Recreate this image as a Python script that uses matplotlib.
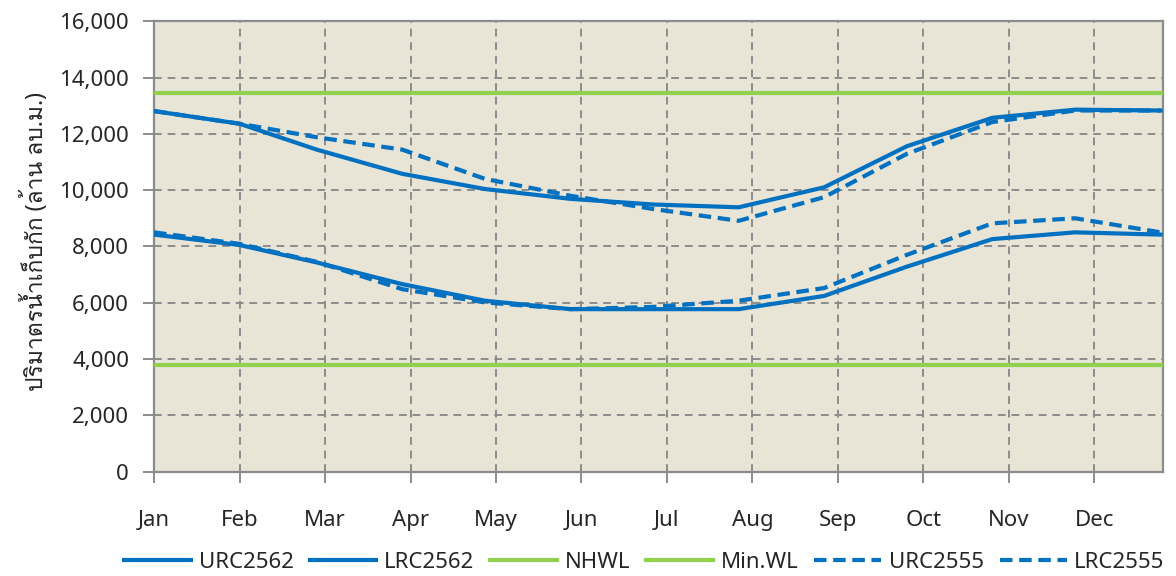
#!/usr/bin/env python3

import numpy as np
import matplotlib

matplotlib.use("Agg")
import matplotlib.pyplot as plt
from matplotlib import ticker, font_manager

# day-of-year of the 1st of each month (plus next Jan 1)
days = [0, 31, 59, 90, 120, 151, 181, 212, 243, 273, 304, 334, 365]
months = ["Jan", "Feb", "Mar", "Apr", "May", "Jun",
          "Jul", "Aug", "Sep", "Oct", "Nov", "Dec"]

urc2562 = [12810, 12360, 11440, 10580, 10040, 9690, 9490, 9390, 10100, 11560, 12570, 12860, 12830]
lrc2562 = [8420, 8050, 7430, 6660, 6070, 5770, 5770, 5770, 6240, 7280, 8260, 8500, 8420]
urc2555 = [12810, 12360, 11880, 11440, 10400, 9800, 9330, 8910, 9750, 11290, 12420, 12830, 12830]
lrc2555 = [8500, 8090, 7450, 6480, 6010, 5770, 5850, 6070, 6520, 7700, 8820, 9000, 8500]
nhwl = 13462
min_wl = 3800

ylabel = "ปริมาตรน้ำเก็บกัก (ล้าน ลบ.ม.)"


def thai_font():
    # pick any installed font that has Thai glyphs
    from matplotlib.ft2font import FT2Font
    for f in font_manager.fontManager.ttflist:
        try:
            ft = FT2Font(f.fname)
            if 0x0E1B in ft.get_charmap():
                return f.name
        except Exception:
            continue
    return None


base = "Noto Sans"
tf = thai_font()
families = [base] + ([tf] if tf else []) + ["DejaVu Sans"]
plt.rcParams["font.family"] = families

blue = "#0070C0"
green = "#92D050"
grid_col = "#8C8C8C"
text_col = "#262626"

fig = plt.figure(figsize=(11.76, 5.76), dpi=100)
ax = fig.add_axes([0.1310, 0.1814, 0.8582, 0.7816])
ax.set_facecolor("#E8E4D6")

lw = 3.0
ax.plot(days, urc2562, color=blue, lw=lw, label="URC2562", zorder=4)
ax.plot(days, lrc2562, color=blue, lw=lw, label="LRC2562", zorder=4)
ax.axhline(nhwl, color=green, lw=lw, label="NHWL", zorder=3)
ax.axhline(min_wl, color=green, lw=lw, label="Min.WL", zorder=3)
ax.plot(days, urc2555, color=blue, lw=lw, dashes=(3, 1.6), label="URC2555", zorder=4)
ax.plot(days, lrc2555, color=blue, lw=lw, dashes=(3, 1.6), label="LRC2555", zorder=4)

ax.set_xlim(0, 366)
ax.set_ylim(0, 16000)
ax.xaxis.set_major_locator(ticker.FixedLocator(np.arange(0, 12) * 31))
ax.xaxis.set_major_formatter(ticker.FixedFormatter(months))
ax.yaxis.set_major_locator(ticker.MultipleLocator(2000))
ax.yaxis.set_major_formatter(ticker.FuncFormatter(lambda v, p: "{:,.0f}".format(v)))

ax.grid(which="major", color=grid_col, linestyle=(0, (4, 3)), linewidth=1.4, zorder=1)
ax.set_axisbelow(True)
for s in ax.spines.values():
    s.set_color(grid_col)
    s.set_linewidth(1.6)

ax.tick_params(axis="both", colors=grid_col, labelcolor=text_col, labelsize=16,
               length=8, width=1.4, direction="out")
ax.tick_params(axis="x", pad=20)
ax.tick_params(axis="y", pad=10)

ax.set_ylabel(ylabel, fontsize=16.5, color=text_col)
ax.yaxis.set_label_coords(-0.104, 0.51)

leg = fig.legend(
    loc="center",
    bbox_to_anchor=(0.548, 0.024),
    ncol=6,
    frameon=False,
    fontsize=16,
    handlelength=3.0,
    handletextpad=0.35,
    columnspacing=0.72,
    borderaxespad=0,
)
for t in leg.get_texts():
    t.set_color(text_col)

fig.savefig("out.png", dpi=100)
plt.close()
